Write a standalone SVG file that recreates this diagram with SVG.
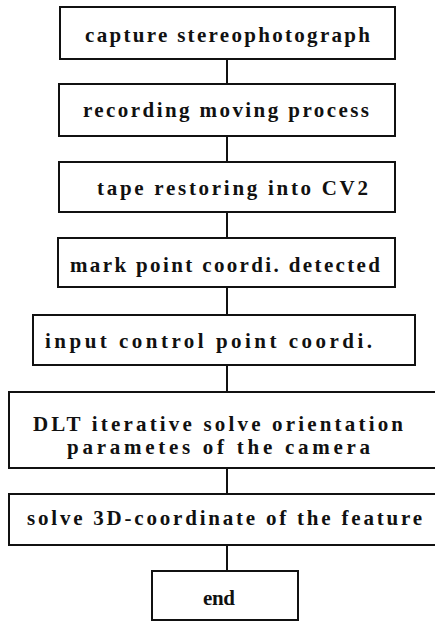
<svg xmlns="http://www.w3.org/2000/svg" width="435" height="621" viewBox="0 0 435 621">
<style>
.box{fill:#fff;stroke:#111;stroke-width:2}
.t{font-family:'Liberation Serif',serif;font-weight:bold;font-size:21px;fill:#111}
.c{stroke:#111;stroke-width:2;fill:none}
</style>
<rect width="435" height="621" fill="#fff"/>
<g id="connectors">
<line class="c" x1="227" y1="59" x2="227" y2="84"/>
<line class="c" x1="227" y1="136" x2="227" y2="162"/>
<line class="c" x1="227" y1="212" x2="227" y2="238"/>
<line class="c" x1="227" y1="287" x2="227" y2="315"/>
<line class="c" x1="227" y1="365" x2="227" y2="392"/>
<line class="c" x1="227" y1="468" x2="227" y2="494"/>
<line class="c" x1="227" y1="545" x2="227" y2="571"/>
</g>
<g id="n1"><rect class="box" x="60" y="7" width="335" height="52"/><text class="t" x="85" y="42" textLength="285" lengthAdjust="spacing">capture stereophotograph</text></g>
<g id="n2"><rect class="box" x="59" y="84" width="336" height="52"/><text class="t" x="83" y="117" textLength="286" lengthAdjust="spacing">recording moving process</text></g>
<g id="n3"><rect class="box" x="59" y="162" width="336" height="50"/><text class="t" x="97" y="195" textLength="271" lengthAdjust="spacing">tape restoring into CV2</text></g>
<g id="n4"><rect class="box" x="58" y="238" width="337" height="49"/><text class="t" x="70" y="272" textLength="310" lengthAdjust="spacing">mark point coordi. detected</text></g>
<g id="n5"><rect class="box" x="33" y="315" width="382" height="50"/><text class="t" x="45" y="348" textLength="327" lengthAdjust="spacing">input control point coordi.</text></g>
<g id="n6"><rect class="box" x="9" y="392" width="440" height="76"/><text class="t" x="33" y="431" textLength="370" lengthAdjust="spacing">DLT iterative solve orientation</text><text class="t" x="67" y="454" textLength="303" lengthAdjust="spacing">parametes of the camera</text></g>
<g id="n7"><rect class="box" x="9" y="494" width="440" height="51"/><text class="t" x="27" y="525" textLength="395" lengthAdjust="spacing">solve 3D-coordinate of the feature</text></g>
<g id="n8"><rect class="box" x="152" y="571" width="146" height="49"/><text class="t" x="203" y="605" textLength="32" lengthAdjust="spacing">end</text></g>
</svg>
